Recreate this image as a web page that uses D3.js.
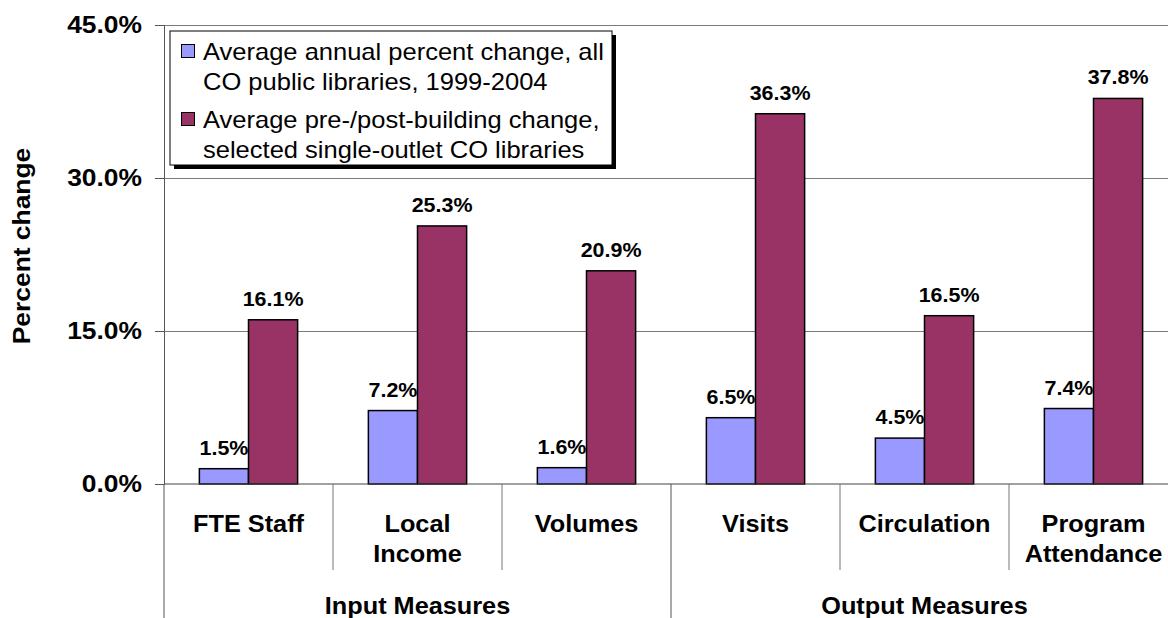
<!DOCTYPE html>
<html lang="en">
<head>
<meta charset="utf-8">
<title>Percent change, CO public libraries</title>
<script src="https://d3js.org/d3.v7.min.js"></script>
<style>
  body { margin: 0; background: #fff; }
  svg text { font-family: Arial, "Liberation Sans", sans-serif; fill: #000; }
</style>
</head>
<body>
<div id="chart"></div>
<script>
// data
var categories = ["FTE Staff", "Local Income", "Volumes", "Visits", "Circulation", "Program Attendance"];
var categoryLines = [["FTE Staff"], ["Local", "Income"], ["Volumes"], ["Visits"], ["Circulation"], ["Program", "Attendance"]];
var groups = ["Input Measures", "Output Measures"];
var groupSizes = [3, 3];
var seriesKeys = ["annual", "building"];
var legendLines = [["Average annual percent change, all", "CO public libraries, 1999-2004"],
                   ["Average pre-/post-building change,", "selected single-outlet CO libraries"]];
var annualChange = [1.5, 7.2, 1.6, 6.5, 4.5, 7.4];
var buildingChange = [16.1, 25.3, 20.9, 36.3, 16.5, 37.8];
var yTicks = [0, 15, 30, 45];
var seriesColors = ["#9999ff", "#993366"];

var W = 1168, H = 618;
// plot box (right edge runs past the picture, as in the original)
var plotLeft = 164, plotTop = 25, plotBottom = 484, plotRight = 1178;
var SX = 1.1; // the original fonts look a little wide

var svg = d3.select("#chart").append("svg")
    .attr("width", W)
    .attr("height", H);

var x0 = d3.scaleBand().domain(categories).range([plotLeft, plotRight]).padding(0);
var x1 = d3.scaleBand().domain(seriesKeys).range([0, x0.bandwidth()]).paddingInner(0).paddingOuter(0.72);
var y = d3.scaleLinear().domain([0, 45]).range([plotBottom, plotTop]);
var color = d3.scaleOrdinal().domain(seriesKeys).range(seriesColors);
var pct = function(v) { return d3.format(".1f")(v) + "%"; };

// text helper, widened a bit
function label(g, x, yy, str, size, anchor, weight) {
  return g.append("text")
    .attr("transform", "translate(" + x + "," + yy + ") scale(" + SX + ",1)")
    .attr("text-anchor", anchor || "middle")
    .style("font-size", size + "px")
    .style("font-weight", weight || "bold")
    .text(str);
}

// gridlines
svg.append("g")
    .attr("transform", "translate(" + plotLeft + ",0)")
    .call(d3.axisLeft(y).tickValues(yTicks.slice(1)).tickSize(-(W - plotLeft)).tickFormat(""))
    .call(function(g) { g.select(".domain").remove(); })
    .selectAll("line").attr("stroke", "#7a7a7a");

// legend box (drawn over gridlines)
var lg = svg.append("g");
lg.append("rect").attr("x", 174).attr("y", 35).attr("width", 442).attr("height", 134).attr("fill", "#000");
lg.append("rect").attr("x", 170).attr("y", 31).attr("width", 442).attr("height", 134)
    .attr("fill", "#fff").attr("stroke", "#000").attr("stroke-width", 1);
seriesKeys.forEach(function(k, i) {
  var ty = 44 + i * 68;
  lg.append("rect").attr("x", 181.5).attr("y", ty + 0.5).attr("width", 13).attr("height", 13)
      .attr("fill", color(k)).attr("stroke", "#000").attr("stroke-width", 1);
  legendLines[i].forEach(function(t, j) {
    label(lg, 203, ty + 16 + j * 29.5, t, 23.2, "start", "normal");
  });
});

// bars
var rows = categories.map(function(c, i) {
  return { cat: c, values: [
    { key: "annual", value: annualChange[i] },
    { key: "building", value: buildingChange[i] }
  ] };
});

var cell = svg.append("g").selectAll("g")
  .data(rows)
  .enter().append("g")
    .attr("transform", function(d) { return "translate(" + x0(d.cat) + ",0)"; });

cell.selectAll("rect")
  .data(function(d) { return d.values; })
  .enter().append("rect")
    .attr("x", function(d) { return x1(d.key); })
    .attr("y", function(d) { return y(d.value); })
    .attr("width", x1.bandwidth())
    .attr("height", function(d) { return y(0) - y(d.value); })
    .attr("fill", function(d) { return color(d.key); })
    .attr("stroke", "#000")
    .attr("stroke-width", 1.5);

cell.each(function(d) {
  var g = d3.select(this);
  d.values.forEach(function(v) {
    label(g, x1(v.key) + x1.bandwidth() / 2, y(v.value) - 14, pct(v.value), 19.5);
  });
});

// y axis
var yAxisG = svg.append("g")
    .attr("transform", "translate(" + plotLeft + ",0)")
    .call(d3.axisLeft(y).tickValues(yTicks).tickSize(9).tickSizeOuter(0).tickPadding(11).tickFormat(pct));
yAxisG.select(".domain").attr("stroke", "#555");
yAxisG.selectAll(".tick line").attr("stroke", "#555");
yAxisG.selectAll(".tick text")
    .attr("transform", "scale(" + SX + ",1)")
    .style("font-size", "24px")
    .style("font-weight", "bold")
    .style("font-family", "Arial, 'Liberation Sans', sans-serif");

// zero line
svg.append("line")
    .attr("x1", plotLeft).attr("x2", plotRight)
    .attr("y1", y(0)).attr("y2", y(0))
    .attr("stroke", "#444").attr("stroke-width", 1.2);

// axis title
svg.append("text")
    .attr("transform", "translate(30," + 246 + ") rotate(-90) scale(" + SX + ",1)")
    .attr("text-anchor", "middle")
    .style("font-size", "24px")
    .style("font-weight", "bold")
    .text("Percent change");

// category labels and dividers
var ax = svg.append("g");
categories.forEach(function(c, i) {
  var cx = x0(c) + x0.bandwidth() / 2;
  categoryLines[i].forEach(function(t, j) {
    label(ax, cx, 532 + j * 30, t, 23);
  });
});

var start = 0;
groups.forEach(function(gname, gi) {
  var first = categories[start];
  var last = categories[start + groupSizes[gi] - 1];
  var gx0 = x0(first), gx1 = x0(last) + x0.bandwidth();
  // long divider at the start of each group
  ax.append("line").attr("x1", gx0).attr("x2", gx0).attr("y1", plotBottom).attr("y2", H)
      .attr("stroke", "#555");
  // short dividers inside the group
  for (var k = start + 1; k < start + groupSizes[gi]; k++) {
    var dx = x0(categories[k]);
    ax.append("line").attr("x1", dx).attr("x2", dx).attr("y1", plotBottom).attr("y2", 570)
        .attr("stroke", "#777");
  }
  if (gi === groups.length - 1) {
    ax.append("line").attr("x1", gx1).attr("x2", gx1).attr("y1", plotBottom).attr("y2", H)
        .attr("stroke", "#555");
  }
  label(ax, (gx0 + gx1) / 2, 614, gname, 23);
  start += groupSizes[gi];
});
</script>
</body>
</html>
